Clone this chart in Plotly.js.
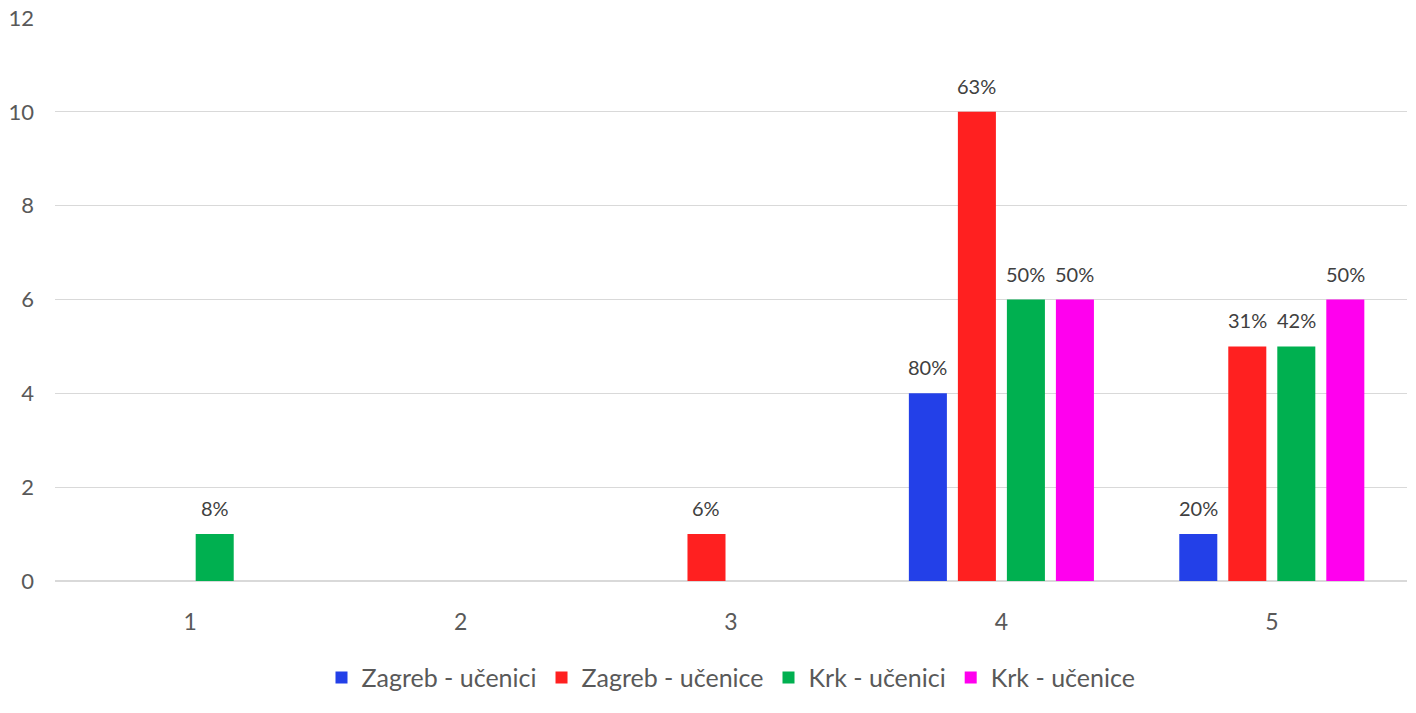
<!DOCTYPE html>
<html>
<head>
<meta charset="utf-8">
<script src="https://cdn.plot.ly/plotly-3.0.1.min.js"></script>
<style>html,body{margin:0;padding:0;background:#fff;}#chart{width:1416px;height:713px;}</style>
</head>
<body>
<div id="chart"></div>
<script>
const categories = ['1', '2', '3', '4', '5'];
const seriesNames = ['Zagreb - učenici', 'Zagreb - učenice', 'Krk - učenici', 'Krk - učenice'];
const zagrebUcenici = [0, 0, 0, 4, 1];
const zagrebUcenice = [0, 0, 1, 10, 5];
const krkUcenici = [1, 0, 0, 6, 5];
const krkUcenice = [0, 0, 0, 6, 6];
const zagrebUceniciPct = ['', '', '', '80%', '20%'];
const zagrebUcenicePct = ['', '', '6%', '63%', '31%'];
const krkUceniciPct = ['8%', '', '', '50%', '42%'];
const krkUcenicePct = ['', '', '', '50%', '50%'];
const yTicks = [0, 2, 4, 6, 8, 10, 12];

const colors = ['#2340e8', '#ff2020', '#00b050', '#ff00ee'];
const values = [zagrebUcenici, zagrebUcenice, krkUcenici, krkUcenice];
const labels = [zagrebUceniciPct, zagrebUcenicePct, krkUceniciPct, krkUcenicePct];
const FONT = 'Lato, "Open Sans", sans-serif';
const bargap = 0.275;
const nSeries = values.length;

const traces = values.map((v, i) => ({
  type: 'bar',
  name: seriesNames[i],
  x: categories,
  y: v,
  marker: {color: colors[i]},
  hoverinfo: 'none'
}));

const annotations = [];
const slot = (1 - bargap) / nSeries;
values.forEach((v, i) => {
  v.forEach((val, c) => {
    if (labels[i][c] === '') return;
    annotations.push({
      xref: 'x', yref: 'y',
      x: c + (i - (nSeries - 1) / 2) * slot,
      y: val,
      yshift: 26,
      text: labels[i][c],
      showarrow: false,
      xanchor: 'center', yanchor: 'middle',
      font: {family: FONT, size: 20, color: '#404040'}
    });
  });
});

const layout = {
  width: 1416, height: 713,
  margin: {l: 55, r: 9, t: 18, b: 132},
  paper_bgcolor: '#ffffff', plot_bgcolor: '#ffffff',
  barmode: 'group',
  bargap: bargap,
  bargroupgap: 0.224,
  font: {family: FONT, color: '#595959'},
  xaxis: {
    type: 'category',
    showgrid: false, zeroline: false, showline: false, ticks: '',
    tickfont: {family: FONT, size: 23, color: '#595959'},
    ticklabelstandoff: 25
  },
  yaxis: {
    range: [0, 12],
    tickvals: yTicks,
    showgrid: true, gridcolor: '#d9d9d9', gridwidth: 1.3,
    zeroline: true, zerolinecolor: '#d9d9d9', zerolinewidth: 1.3,
    showline: false, ticks: '',
    tickfont: {family: FONT, size: 22, color: '#595959'},
    ticklabelstandoff: 20
  },
  showlegend: true,
  legend: {
    orientation: 'h', x: 0.5, xanchor: 'center', y: -0.172, yanchor: 'middle',
    font: {family: FONT, size: 25, color: '#595959'},
    itemwidth: 30, tracegroupgap: 0
  },
  annotations: annotations
};

Plotly.newPlot('chart', traces, layout, {staticPlot: true, displayModeBar: false});
</script>
</body>
</html>
